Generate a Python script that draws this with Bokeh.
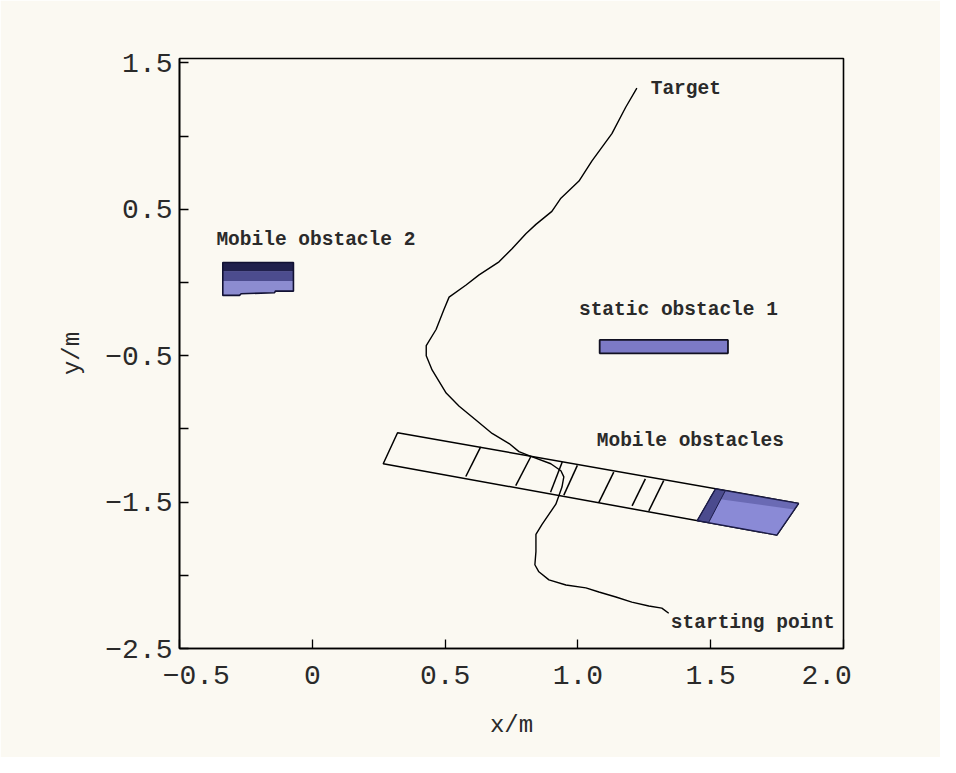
from bokeh.plotting import figure
from bokeh.models import FixedTicker, Range1d
from bokeh.core.properties import value
from bokeh.embed import file_html
from bokeh.resources import INLINE

# ---- data ----
path_x = [1.342, 1.316, 1.267, 1.203, 1.143, 1.079, 1.030, 0.955, 0.891, 0.853, 0.838, 0.842,
          0.842, 0.865, 0.917, 0.940, 0.947, 0.936, 0.898, 0.816, 0.778, 0.741, 0.677, 0.617,
          0.553, 0.504, 0.451, 0.429, 0.429, 0.466, 0.496, 0.515, 0.579, 0.628, 0.703, 0.752,
          0.805, 0.842, 0.902, 0.936, 1.004, 1.053, 1.128, 1.180, 1.222]
path_y = [-2.259, -2.224, -2.210, -2.183, -2.148, -2.114, -2.086, -2.066, -2.031, -1.976, -1.928, -1.838,
          -1.721, -1.652, -1.514, -1.397, -1.328, -1.286, -1.238, -1.183, -1.155, -1.100, -1.031, -0.941,
          -0.845, -0.755, -0.597, -0.500, -0.431, -0.321, -0.183, -0.100, -0.017, 0.052, 0.141, 0.231,
          0.334, 0.397, 0.486, 0.576, 0.693, 0.831, 1.017, 1.197, 1.328]

# swept band of the mobile obstacle
band_x = [0.321, 1.831, 1.749, 0.267]
band_y = [-1.026, -1.509, -1.725, -1.238]
divider_xs = [[0.634, 0.578], [0.822, 0.766], [0.941, 0.897], [0.998, 0.947],
              [1.135, 1.079], [1.254, 1.204], [1.323, 1.267]]
divider_ys = [[-1.123, -1.325], [-1.192, -1.388], [-1.226, -1.433], [-1.249, -1.452],
              [-1.295, -1.502], [-1.341, -1.526], [-1.353, -1.560]]
# final position of the mobile obstacle
mob_x = [1.518, 1.831, 1.749, 1.449]
mob_y = [-1.410, -1.509, -1.725, -1.627]
mob_top_x = [1.518, 1.831, 1.815, 1.495]
mob_top_y = [-1.410, -1.509, -1.550, -1.470]
mob_prev_x = [1.518, 1.555, 1.492, 1.449]
mob_prev_y = [-1.410, -1.422, -1.640, -1.627]

# mobile obstacle 2
obs2_x = [-0.337, -0.071, -0.071, -0.139, -0.142, -0.268, -0.274, -0.337]
obs2_y = [0.137, 0.137, -0.059, -0.059, -0.070, -0.077, -0.088, -0.088]
obs2_band1_x = [-0.337, -0.071, -0.071, -0.337]
obs2_band1_y = [0.137, 0.137, 0.075, 0.075]
obs2_band2_x = [-0.337, -0.071, -0.071, -0.337]
obs2_band2_y = [0.075, 0.075, 0.010, 0.010]

# static obstacle 1
stat_x = [1.082, 1.565, 1.565, 1.082]
stat_y = [-0.392, -0.392, -0.484, -0.484]

label_text = ["Target", "Mobile obstacle 2", "static obstacle 1", "Mobile obstacles", "starting point"]
label_x = [1.274, -0.361, 1.004, 1.071, 1.350]
label_y = [1.321, 0.293, -0.190, -1.086, -2.328]

NB = "\u00a0"
x_ticks = [-0.5, 0, 0.5, 1.0, 1.5, 2.0]
x_tick_labels = [NB + NB + "\u22120.5", "0", "0.5", "1.0", "1.5", "2.0" + NB + NB]
y_ticks = [1.5, 0.5, -0.5, -1.5, -2.5]
y_tick_labels = ["1.5", "0.5", "\u22120.5", "\u22121.5", "\u22122.5"]
y_minor = [1.0, 0.0, -1.0, -2.0]

BG = "#fbf9f2"
FONT = "Liberation Mono"

p = figure(width=940, height=757, output_backend="svg", toolbar_location=None,
           x_range=Range1d(-0.5, 2.0), y_range=Range1d(-2.5, 1.53),
           min_border_left=179, min_border_right=97, min_border_top=58, min_border_bottom=109)
p.background_fill_color = BG
p.border_fill_color = BG
p.outline_line_color = "black"
p.outline_line_width = 1.6
p.xgrid.visible = False
p.ygrid.visible = False

# axes
p.xaxis.ticker = FixedTicker(ticks=x_ticks, minor_ticks=[])
p.xaxis.major_label_overrides = {t: l for t, l in zip(x_ticks, x_tick_labels)}
p.yaxis.ticker = FixedTicker(ticks=y_ticks, minor_ticks=y_minor)
p.yaxis.major_label_overrides = {t: l for t, l in zip(y_ticks, y_tick_labels)}
for ax in (p.xaxis, p.yaxis):
    ax.axis_line_color = "black"
    ax.axis_line_width = 1.6
    ax.major_tick_in = 9
    ax.major_tick_out = 0
    ax.minor_tick_in = 9
    ax.minor_tick_out = 0
    ax.major_tick_line_color = "black"
    ax.minor_tick_line_color = "black"
    ax.major_tick_line_width = 1.3
    ax.minor_tick_line_width = 1.3
    ax.major_label_text_font = FONT
    ax.major_label_text_font_size = "28px"
    ax.major_label_text_color = "#2a2a2a"
    ax.axis_label_text_font = FONT
    ax.axis_label_text_font_size = "24px"
    ax.axis_label_text_font_style = "normal"
    ax.axis_label_text_color = "#2a2a2a"
p.xaxis.major_label_standoff = 12
p.yaxis.major_label_standoff = 7
p.xaxis.axis_label = "x/m"
p.yaxis.axis_label = "y/m"
p.xaxis.axis_label_standoff = 17
p.yaxis.axis_label_standoff = 16

# band
p.patch(band_x, band_y, fill_alpha=0, line_color="black", line_width=1.5)
p.multi_line(divider_xs, divider_ys, line_color="black", line_width=1.5)

# obstacles
p.patch(mob_x, mob_y, fill_color="#8a8ad6", line_alpha=0)
p.patch(mob_top_x, mob_top_y, fill_color="#6a6ab4", line_alpha=0)
p.patch(mob_prev_x, mob_prev_y, fill_color="#4b4b8e", line_color="#1c1c48", line_width=1.0)
p.patch(mob_x, mob_y, fill_alpha=0, line_color="#1c1c48", line_width=1.3)

p.patch(obs2_x, obs2_y, fill_color="#8c8cd0", line_alpha=0)
p.patch(obs2_band1_x, obs2_band1_y, fill_color="#20204c", line_alpha=0)
p.patch(obs2_band2_x, obs2_band2_y, fill_color="#4c4c8e", line_alpha=0)
p.patch(obs2_x, obs2_y, fill_alpha=0, line_color="#111133", line_width=1.6)

p.patch(stat_x, stat_y, fill_color="#7c7ac6", line_color="#111122", line_width=1.8)

# path
p.line(path_x, path_y, line_color="black", line_width=1.4)

# labels
p.text(label_x, label_y, text=label_text, text_font=value(FONT), text_font_size="19.5px",
       text_font_style="bold", text_color="#2a2a2a", text_baseline="middle", text_align="left")

open("out.html", "w").write(file_html(p, INLINE))
